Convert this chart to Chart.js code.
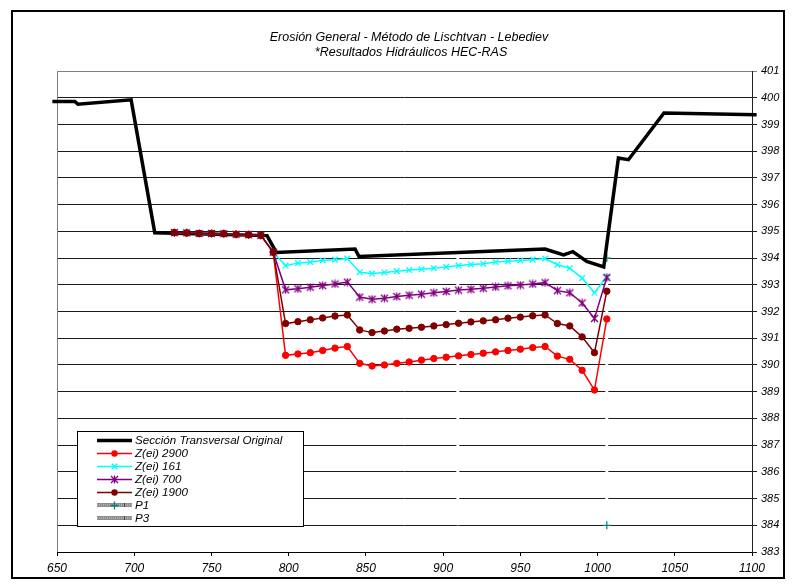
<!DOCTYPE html>
<html>
<head>
<meta charset="utf-8">
<title>Erosión General</title>
<script src="https://cdn.jsdelivr.net/npm/chart.js@4/dist/chart.umd.min.js"></script>
<style>
  html, body { margin: 0; padding: 0; background: #fff; }
  #wrap { position: relative; width: 795px; height: 584px; }
</style>
</head>
<body>
<div id="wrap"><canvas id="erosionChart"></canvas></div>
<script>
// Stations (m) shared by the scour profiles
const stations = [726, 734, 742, 750, 758, 766, 774, 782, 790, 798, 806, 814, 822, 830, 838, 846, 854, 862,
                  870, 878, 886, 894, 902, 910, 918, 926, 934, 942, 950, 958, 966, 974, 982, 990, 998, 1006];

// Scour bottom elevations for each discharge
const zei2900 = [394.95, 394.94, 394.92, 394.92, 394.91, 394.89, 394.87, 394.85, 394.22,
                 390.36, 390.41, 390.46, 390.54, 390.63, 390.69, 390.06, 389.96, 390.00, 390.06, 390.11,
                 390.18, 390.24, 390.29, 390.34, 390.39, 390.44, 390.49, 390.54, 390.59, 390.65, 390.69,
                 390.33, 390.21, 389.80, 389.06, 391.72];
const zei161 = [394.95, 394.94, 394.92, 394.92, 394.91, 394.89, 394.87, 394.85, 394.22,
                393.72, 393.81, 393.85, 393.91, 393.94, 393.98, 393.47, 393.42, 393.46, 393.51, 393.55,
                393.58, 393.62, 393.67, 393.72, 393.76, 393.79, 393.85, 393.88, 393.91, 393.94, 393.98,
                393.75, 393.62, 393.25, 392.70, 393.31];
const zei700 = [394.95, 394.94, 394.92, 394.92, 394.91, 394.89, 394.87, 394.85, 394.22,
                392.81, 392.85, 392.91, 392.97, 393.03, 393.10, 392.54, 392.46, 392.50, 392.56, 392.61,
                392.65, 392.70, 392.75, 392.80, 392.83, 392.87, 392.92, 392.96, 392.99, 393.03, 393.08,
                392.78, 392.70, 392.32, 391.74, 393.27];
const zei1900 = [394.95, 394.94, 394.92, 394.92, 394.91, 394.89, 394.87, 394.85, 394.22,
                 391.55, 391.62, 391.69, 391.76, 391.83, 391.87, 391.31, 391.21, 391.27, 391.34, 391.37,
                 391.41, 391.46, 391.51, 391.56, 391.61, 391.65, 391.69, 391.75, 391.79, 391.84, 391.87,
                 391.55, 391.46, 391.05, 390.46, 392.76];

// Original cross section
const originalX = [647, 661.5, 663.5, 698, 713.3, 786, 792, 843, 845.5, 966, 978, 984, 993, 1004, 1013.5, 1020, 1043, 1103];
const originalY = [399.86, 399.86, 399.76, 399.92, 394.95, 394.84, 394.21, 394.34, 394.06, 394.34, 394.12, 394.24,
                   393.87, 393.67, 397.74, 397.68, 399.43, 399.36];

// Reference verticals
const p1X = [1006, 1006];
const p1Y = [394, 384];
const p3X = [909.5, 909.5];
const p3Y = [394, 384];

const titleLines = ['Erosión General - Método de Lischtvan - Lebediev', '*Resultados Hidráulicos HEC-RAS'];

const FONT = "'Liberation Sans', Arial, sans-serif";

function toPoints(xs, ys) {
    return xs.map((x, i) => ({ x: x, y: ys[i] }));
}

// Excel-like asterisk marker (x with a vertical bar)
function makeAsterisk(color, size) {
    const c = document.createElement('canvas');
    c.width = size; c.height = size;
    const g = c.getContext('2d');
    const m = size / 2, d = size / 2 - 1;
    g.strokeStyle = color;
    g.lineWidth = 1.3;
    g.beginPath();
    g.moveTo(m - d, m - d); g.lineTo(m + d, m + d);
    g.moveTo(m - d, m + d); g.lineTo(m + d, m - d);
    g.moveTo(m, m - d - 0.5); g.lineTo(m, m + d + 0.5);
    g.stroke();
    return c;
}

function drawMarker(ctx, style, x, y, r, color) {
    ctx.save();
    ctx.strokeStyle = color;
    ctx.fillStyle = color;
    ctx.lineWidth = 1.3;
    if (style instanceof HTMLCanvasElement) {
        ctx.drawImage(style, x - style.width / 2, y - style.height / 2);
    } else if (style === 'circle') {
        ctx.beginPath();
        ctx.arc(x, y, r, 0, Math.PI * 2);
        ctx.fill();
    } else {
        const d = r * 0.707;
        ctx.beginPath();
        if (style === 'crossRot') {
            ctx.moveTo(x - d, y - d); ctx.lineTo(x + d, y + d);
            ctx.moveTo(x - d, y + d); ctx.lineTo(x + d, y - d);
        } else if (style === 'cross') {
            ctx.moveTo(x, y - r); ctx.lineTo(x, y + r);
            ctx.moveTo(x - r, y); ctx.lineTo(x + r, y);
        }
        ctx.stroke();
    }
    ctx.restore();
}

// White page, outer frame, plot frame and title
const framePlugin = {
    id: 'framePlugin',
    beforeDraw(chart) {
        const ctx = chart.ctx;
        ctx.save();
        ctx.fillStyle = '#fff';
        ctx.fillRect(0, 0, chart.width, chart.height);
        ctx.restore();
    },
    beforeDatasetsDraw(chart) {
        const ctx = chart.ctx;
        const a = chart.chartArea;
        ctx.save();
        ctx.strokeStyle = '#808080';
        ctx.lineWidth = 1;
        ctx.beginPath();
        ctx.moveTo(a.left + 0.5, a.bottom);
        ctx.lineTo(a.left + 0.5, a.top + 0.5);
        ctx.lineTo(a.right, a.top + 0.5);
        ctx.stroke();
        ctx.restore();
    },
    afterDraw(chart) {
        const ctx = chart.ctx;
        ctx.save();
        ctx.strokeStyle = '#000';
        ctx.lineWidth = 2;
        ctx.strokeRect(12, 11, 772, 567);
        ctx.fillStyle = '#000';
        ctx.font = 'italic 12.5px ' + FONT;
        ctx.textAlign = 'center';
        ctx.textBaseline = 'middle';
        ctx.fillText(titleLines[0], 409, 38);
        ctx.fillText(titleLines[1], 411, 52.5);
        ctx.restore();
    }
};

// Legend box inside the plot, lower left
const legendBox = {
    id: 'legendBox',
    afterDraw(chart) {
        const ctx = chart.ctx;
        const left = 77, top = 431, w = 226, h = 95;
        ctx.save();
        ctx.fillStyle = '#fff';
        ctx.fillRect(left, top, w, h);
        ctx.strokeStyle = '#000';
        ctx.lineWidth = 1;
        ctx.strokeRect(left + 0.5, top + 0.5, w, h);
        ctx.font = 'italic 11.6px ' + FONT;
        ctx.textBaseline = 'middle';
        ctx.textAlign = 'left';
        chart.data.datasets.forEach((ds, i) => {
            const y = Math.round(top + 8.5 + i * 13.1) + 0.5;
            const x0 = left + 20, x1 = left + 55;
            if (ds.legendHatch) {
                ctx.fillStyle = '#8c8c8c';
                ctx.fillRect(x0, y - 2.5, x1 - x0, 4);
                ctx.strokeStyle = '#d0d0d0';
                ctx.lineWidth = 1;
                ctx.setLineDash([1, 1]);
                ctx.beginPath();
                ctx.moveTo(x0, y - 0.5); ctx.lineTo(x1, y - 0.5);
                ctx.stroke();
                ctx.setLineDash([]);
                ctx.strokeStyle = '#444';
                ctx.beginPath();
                ctx.moveTo(x0 + 27.5, y - 2.5); ctx.lineTo(x0 + 27.5, y + 1.5);
                ctx.stroke();
            } else {
                ctx.strokeStyle = ds.borderColor;
                ctx.lineWidth = ds.borderWidth;
                ctx.beginPath();
                ctx.moveTo(x0, y); ctx.lineTo(x1, y);
                ctx.stroke();
            }
            if (ds.pointRadius > 0) {
                drawMarker(ctx, ds.pointStyle, (x0 + x1) / 2, y, ds.pointRadius, ds.pointBorderColor);
            }
            ctx.fillStyle = '#000';
            ctx.fillText(ds.label, x1 + 3, y);
        });
        ctx.restore();
    }
};

const asterisk = makeAsterisk('#800080', 9);

const datasets = [
    {
        label: 'Sección Transversal Original',
        data: toPoints(originalX, originalY),
        borderColor: '#000', borderWidth: 3.5,
        pointRadius: 0, order: 5, clip: false
    },
    {
        label: 'Z(ei) 2900',
        data: toPoints(stations, zei2900),
        borderColor: '#ff0000', borderWidth: 1.5,
        pointStyle: 'circle', pointRadius: 3.2,
        pointBackgroundColor: '#ff0000', pointBorderColor: '#ff0000', pointBorderWidth: 1,
        order: 4
    },
    {
        label: 'Z(ei) 161',
        data: toPoints(stations, zei161),
        borderColor: '#00ffff', borderWidth: 1.5,
        pointStyle: 'crossRot', pointRadius: 4,
        pointBackgroundColor: '#00ffff', pointBorderColor: '#00ffff', pointBorderWidth: 1.3,
        order: 3
    },
    {
        label: 'Z(ei) 700',
        data: toPoints(stations, zei700),
        borderColor: '#800080', borderWidth: 1.5,
        pointStyle: asterisk, pointRadius: 4,
        pointBackgroundColor: '#800080', pointBorderColor: '#800080',
        order: 2
    },
    {
        label: 'Z(ei) 1900',
        data: toPoints(stations, zei1900),
        borderColor: '#800000', borderWidth: 1.5,
        pointStyle: 'circle', pointRadius: 3.2,
        pointBackgroundColor: '#800000', pointBorderColor: '#800000', pointBorderWidth: 1,
        order: 1
    },
    {
        label: 'P1',
        data: toPoints(p1X, p1Y),
        borderColor: '#ffffff', borderWidth: 3,
        pointStyle: 'cross', pointRadius: 4,
        pointBackgroundColor: '#008080', pointBorderColor: '#008080', pointBorderWidth: 1.2,
        legendHatch: true, order: 6
    },
    {
        label: 'P3',
        data: toPoints(p3X, p3Y),
        borderColor: '#ffffff', borderWidth: 3,
        pointRadius: 0,
        legendHatch: true, order: 7
    }
];

const chart = new Chart(document.getElementById('erosionChart'), {
    type: 'line',
    data: { datasets: datasets },
    options: {
        responsive: true,
        maintainAspectRatio: false,
        animation: false,
        events: [],
        layout: { padding: { left: 57, top: 71, right: 8, bottom: 7 } },
        elements: { line: { tension: 0 } },
        plugins: {
            legend: { display: false },
            title: { display: false },
            tooltip: { enabled: false }
        },
        scales: {
            x: {
                type: 'linear',
                min: 650, max: 1100,
                ticks: {
                    stepSize: 50, autoSkip: false, maxRotation: 0,
                    color: '#000', padding: 5,
                    font: { family: FONT, size: 12, style: 'italic' },
                    callback: (v) => String(v)
                },
                grid: { drawOnChartArea: false, drawTicks: true, tickLength: 4, color: '#000' },
                border: { color: '#000', width: 1 },
                afterFit(scale) { scale.height = 25; }
            },
            y: {
                type: 'linear',
                position: 'right',
                min: 383, max: 401,
                ticks: {
                    stepSize: 1, autoSkip: false,
                    color: '#000', padding: 4,
                    font: { family: FONT, size: 11, style: 'italic' },
                    callback: (v) => String(v)
                },
                grid: {
                    color: (ctx) => (ctx.tick && ctx.tick.value === 401) ? '#808080' : '#1a1a1a',
                    tickLength: 5
                },
                border: { color: '#222', width: 1 },
                afterFit(scale) { scale.width = 35; }
            }
        }
    },
    plugins: [framePlugin, legendBox]
});
</script>
</body>
</html>
